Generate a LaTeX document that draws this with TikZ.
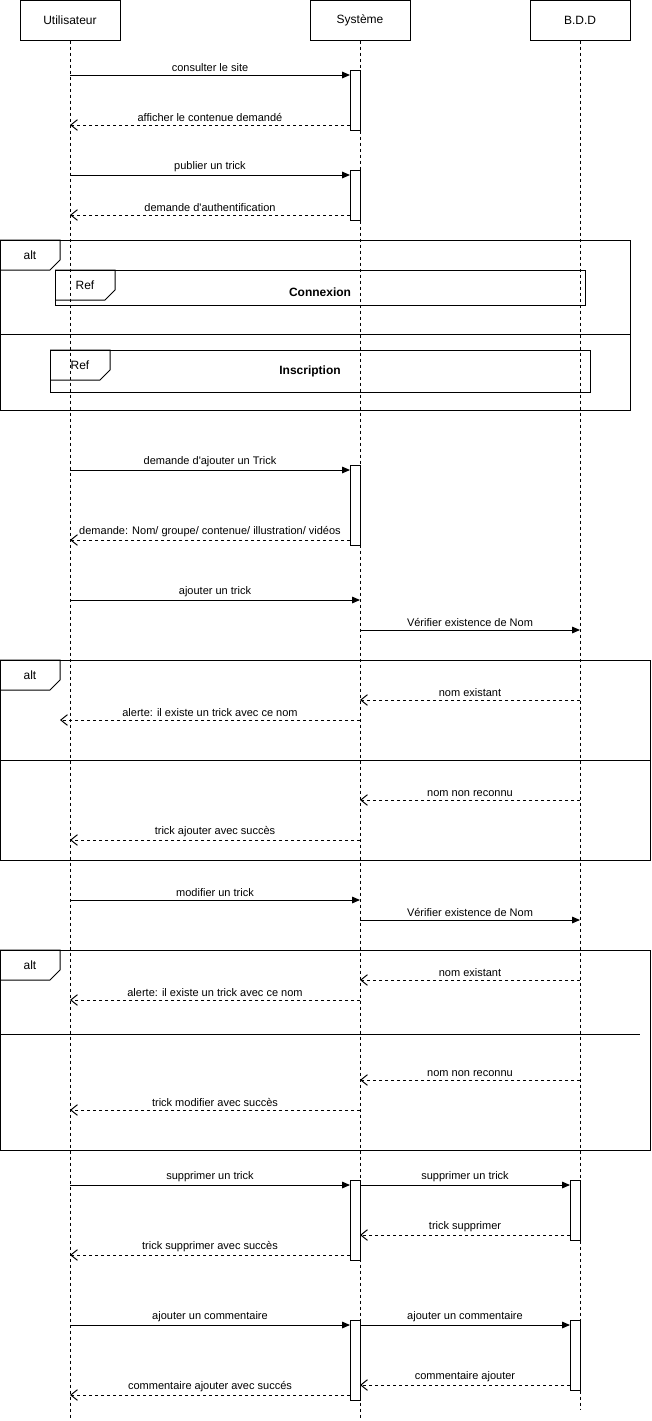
\documentclass[tikz,border=0pt]{standalone}
\usepackage{fontspec}
\newfontfamily\arialf{Liberation Sans}
\usetikzlibrary{arrows.meta}
\tikzset{
  actor/.style={draw, fill=white, line width=0.75pt, minimum width=75pt, minimum height=30pt, inner sep=0pt, font=\arialf\fontsize{9}{11}\selectfont},
  life/.style={line width=0.75pt, dash pattern=on 2.25pt off 2.25pt},
  actbox/.style={draw, fill=white, line width=0.75pt, minimum width=7.5pt, inner sep=0pt, anchor=north},
  syncmsg/.style={line width=0.75pt, -{Triangle[length=6pt,width=5pt]}},
  retmsg/.style={line width=0.75pt, dash pattern=on 2.25pt off 2.25pt, -{Straight Barb[length=5pt,width=8pt,line width=0.75pt]}},
  lbl/.style={midway, above, inner sep=2pt, font=\arialf\fontsize{8.25}{10}\selectfont},
  frm/.style={line width=0.75pt},
  frmtxt/.style={font=\arialf\fontsize{9}{11}\selectfont, inner sep=0pt},
  reftxt/.style={font=\arialf\bfseries\fontsize{9}{11}\selectfont, inner sep=0pt}
}
\newcommand\msgline[6]{%
  \coordinate (#1a) at (#2,#4);
  \coordinate (#1b) at (#3,#4);
  \draw[#5] (#1a) -- node[lbl]{#6} (#1b);}
\begin{document}
\begin{tikzpicture}[x=0.75pt,y=-0.75pt]
\useasboundingbox (0,0) rectangle (651,1421);
% actors
\node[actor] (u) at (70,20) {Utilisateur};
\node[actor] (s) at (360,20) {Système};
\node[actor] (d) at (580,20) {B.D.D};
\coordinate (uend) at (70,1420);
\coordinate (send) at (360,1420);
\coordinate (dend) at (580,1410);
\draw[life] (u.south) -- (uend);
\draw[life] (s.south) -- (send);
\draw[life] (d.south) -- (dend);

% alt frame 1
\draw[frm] (0,240) rectangle (630,410);
\draw[frm] (0,240) -- (60,240) -- (60,260) -- (50,270) -- (0,270);
\node[frmtxt] (alt1) at (30,255) {alt};
\draw[frm] (0,334) -- (630,334);
% ref Connexion
\draw[frm] (55,270) rectangle (585,305);
\draw[frm] (55,270) -- (115,270) -- (115,290) -- (105,300) -- (55,300);
\node[frmtxt] (ref1) at (85,285) {Ref};
\node[reftxt] (connexion) at (320,292) {Connexion};
% ref Inscription
\draw[frm] (50,350) rectangle (590,392);
\draw[frm] (50,350) -- (110,350) -- (110,370) -- (100,380) -- (50,380);
\node[frmtxt] (ref2) at (80,365) {Ref};
\node[reftxt] (inscription) at (310,371) {Inscription};

% alt frame 2
\draw[frm] (0,660) rectangle (650,860);
\draw[frm] (0,660) -- (60,660) -- (60,680) -- (50,690) -- (0,690);
\node[frmtxt] (alt2) at (30,675) {alt};
\draw[frm] (0,760) -- (650,760);

% alt frame 3
\draw[frm] (0,950) rectangle (650,1150);
\draw[frm] (0,950) -- (60,950) -- (60,970) -- (50,980) -- (0,980);
\node[frmtxt] (alt3) at (30,965) {alt};
\draw[frm] (0,1034) -- (640,1034);

% activations
\node[actbox, minimum height=45pt] (a1) at (355,70) {};
\node[actbox, minimum height=37.5pt] (a2) at (355,170) {};
\node[actbox, minimum height=60pt] (a3) at (355,465) {};
\node[actbox, minimum height=60pt] (a4) at (355,1180) {};
\node[actbox, minimum height=45pt] (b1) at (575,1180) {};
\node[actbox, minimum height=60pt] (a5) at (355,1320) {};
\node[actbox, minimum height=52.5pt] (b2) at (575,1320) {};

% messages
\msgline{m1}{70}{350}{75}{syncmsg}{consulter le site}
\msgline{m2}{350}{70}{125}{retmsg}{afficher le contenue demandé}
\msgline{m3}{70}{350}{175}{syncmsg}{publier un trick}
\msgline{m4}{350}{70}{215}{retmsg}{demande d'authentification}
\msgline{m5}{70}{350}{470}{syncmsg}{demande d'ajouter un Trick}
\msgline{m6}{350}{70}{540}{retmsg}{demande: Nom/ groupe/ contenue/ illustration/ vidéos}
\msgline{m7}{70}{360}{600}{syncmsg}{ajouter un trick}
\msgline{m8}{360}{580}{630}{syncmsg}{Vérifier existence de Nom}
\msgline{m9}{580}{360}{700}{retmsg}{nom existant}
\msgline{m10}{360}{60}{720}{retmsg}{alerte: il existe un trick avec ce nom}
\msgline{m11}{580}{360}{800}{retmsg}{nom non reconnu}
\msgline{m12}{360}{70}{840}{retmsg}{trick ajouter avec succès}
\msgline{m13}{70}{360}{900}{syncmsg}{modifier un trick}
\msgline{m14}{360}{580}{920}{syncmsg}{Vérifier existence de Nom}
\msgline{m15}{580}{360}{980}{retmsg}{nom existant}
\msgline{m16}{360}{70}{1000}{retmsg}{alerte: il existe un trick avec ce nom}
\msgline{m17}{580}{360}{1080}{retmsg}{nom non reconnu}
\msgline{m18}{360}{70}{1110}{retmsg}{trick modifier avec succès}
\msgline{m19}{70}{350}{1185}{syncmsg}{supprimer un trick}
\msgline{m20}{360}{570}{1185}{syncmsg}{supprimer un trick}
\msgline{m21}{570}{360}{1235}{retmsg}{trick supprimer}
\msgline{m22}{350}{70}{1255}{retmsg}{trick supprimer avec succès}
\msgline{m23}{70}{350}{1325}{syncmsg}{ajouter un commentaire}
\msgline{m24}{360}{570}{1325}{syncmsg}{ajouter un commentaire}
\msgline{m25}{570}{360}{1385}{retmsg}{commentaire ajouter}
\msgline{m26}{350}{70}{1395}{retmsg}{commentaire ajouter avec succés}
\end{tikzpicture}
\end{document}
